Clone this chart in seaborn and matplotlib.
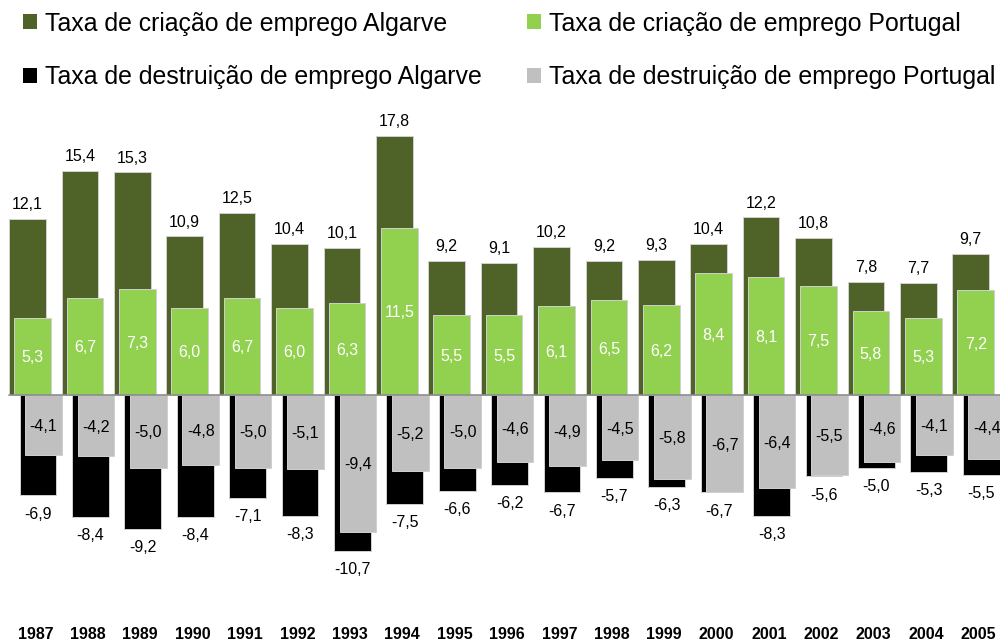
import numpy as np
import pandas as pd
import matplotlib
matplotlib.use("Agg")
import matplotlib.pyplot as plt
from matplotlib.patches import Patch
import seaborn as sns

years = list(range(1987, 2006))
cria_algarve = [12.1, 15.4, 15.3, 10.9, 12.5, 10.4, 10.1, 17.8, 9.2, 9.1, 10.2, 9.2, 9.3, 10.4, 12.2, 10.8, 7.8, 7.7, 9.7]
cria_portugal = [5.3, 6.7, 7.3, 6.0, 6.7, 6.0, 6.3, 11.5, 5.5, 5.5, 6.1, 6.5, 6.2, 8.4, 8.1, 7.5, 5.8, 5.3, 7.2]
destr_algarve = [-6.9, -8.4, -9.2, -8.4, -7.1, -8.3, -10.7, -7.5, -6.6, -6.2, -6.7, -5.7, -6.3, -6.7, -8.3, -5.6, -5.0, -5.3, -5.5]
destr_portugal = [-4.1, -4.2, -5.0, -4.8, -5.0, -5.1, -9.4, -5.2, -5.0, -4.6, -4.9, -4.5, -5.8, -6.7, -6.4, -5.5, -4.6, -4.1, -4.4]

labels = ["Taxa de criação de emprego Algarve",
          "Taxa de destruição de emprego Algarve",
          "Taxa de criação de emprego Portugal",
          "Taxa de destruição de emprego Portugal"]
colors = ["#4f6228", "#000000", "#92d050", "#c0c0c0"]

sns.set_style("white")
plt.rcParams["font.family"] = ["Liberation Sans", "DejaVu Sans"]
plt.rcParams["text.color"] = "black"
plt.rcParams["xtick.color"] = "black"
plt.rcParams["xtick.labelcolor"] = "black"

fig = plt.figure(figsize=(10, 6.42), dpi=100)
ax = fig.add_axes([0, 22 / 642, 1, 620 / 642])

yr = np.array(years, dtype=float)
series = [
    (cria_algarve, 0.0, colors[0]),
    (cria_portugal, 0.095, colors[2]),
    (destr_algarve, 0.20, colors[1]),
    (destr_portugal, 0.305, colors[3]),
]
width = 0.70
for vals, off, col in series:
    df = pd.DataFrame({"x": yr + off, "y": vals})
    sns.barplot(data=df, x="x", y="y", native_scale=True, color=col,
                saturation=1, width=width, errorbar=None, ax=ax,
                edgecolor="#d0d0d0", linewidth=0.7)

ax.axhline(0, color="#8c8c8c", lw=1.2, zorder=5, xmin=9 / 1000)

def fmt(v):
    return f"{v:.1f}".replace(".", ",")

fs = 11.5
for x, v in zip(yr, cria_algarve):
    ax.annotate(fmt(v), (x, v), xytext=(0, 7), textcoords="offset points",
                ha="center", va="baseline", fontsize=fs, color="black")
for x, v in zip(yr + 0.095, cria_portugal):
    ax.text(x, v / 2, fmt(v), ha="center", va="center_baseline",
            fontsize=fs, color="white", zorder=6)
for x, v in zip(yr + 0.20, destr_algarve):
    ax.annotate(fmt(v), (x, v), xytext=(0, -8), textcoords="offset points",
                ha="center", va="top", fontsize=fs, color="black")
for x, v in zip(yr + 0.305, destr_portugal):
    ax.text(x, v / 2, fmt(v), ha="center", va="center_baseline",
            fontsize=fs, color="black", zorder=6)

ax.set_xlim(1987 - 27.5 / 52.4, 1987 + 972.5 / 52.4)
ax.set_ylim(-225 / 14.55, 395 / 14.55)
ax.set_xticks(yr + 0.15)
ax.set_xticklabels([str(y) for y in years], fontsize=11.5, fontweight="bold",
                   color="black")
ax.tick_params(axis="x", length=0, pad=5)
ax.set_yticks([])
ax.set_xlabel("")
ax.set_ylabel("")
for s in ax.spines.values():
    s.set_visible(False)

handles = [Patch(facecolor=c, edgecolor="none") for c in colors]
fig.legend(handles, labels, loc="upper left", bbox_to_anchor=(0.023, 0.982),
           ncol=2, frameon=False, fontsize=17.9, borderpad=0, borderaxespad=0,
           handlelength=0.56, handleheight=0.56, handletextpad=0.33,
           columnspacing=1.82, labelspacing=1.2, labelcolor="black")

fig.savefig("out.png", dpi=100)
